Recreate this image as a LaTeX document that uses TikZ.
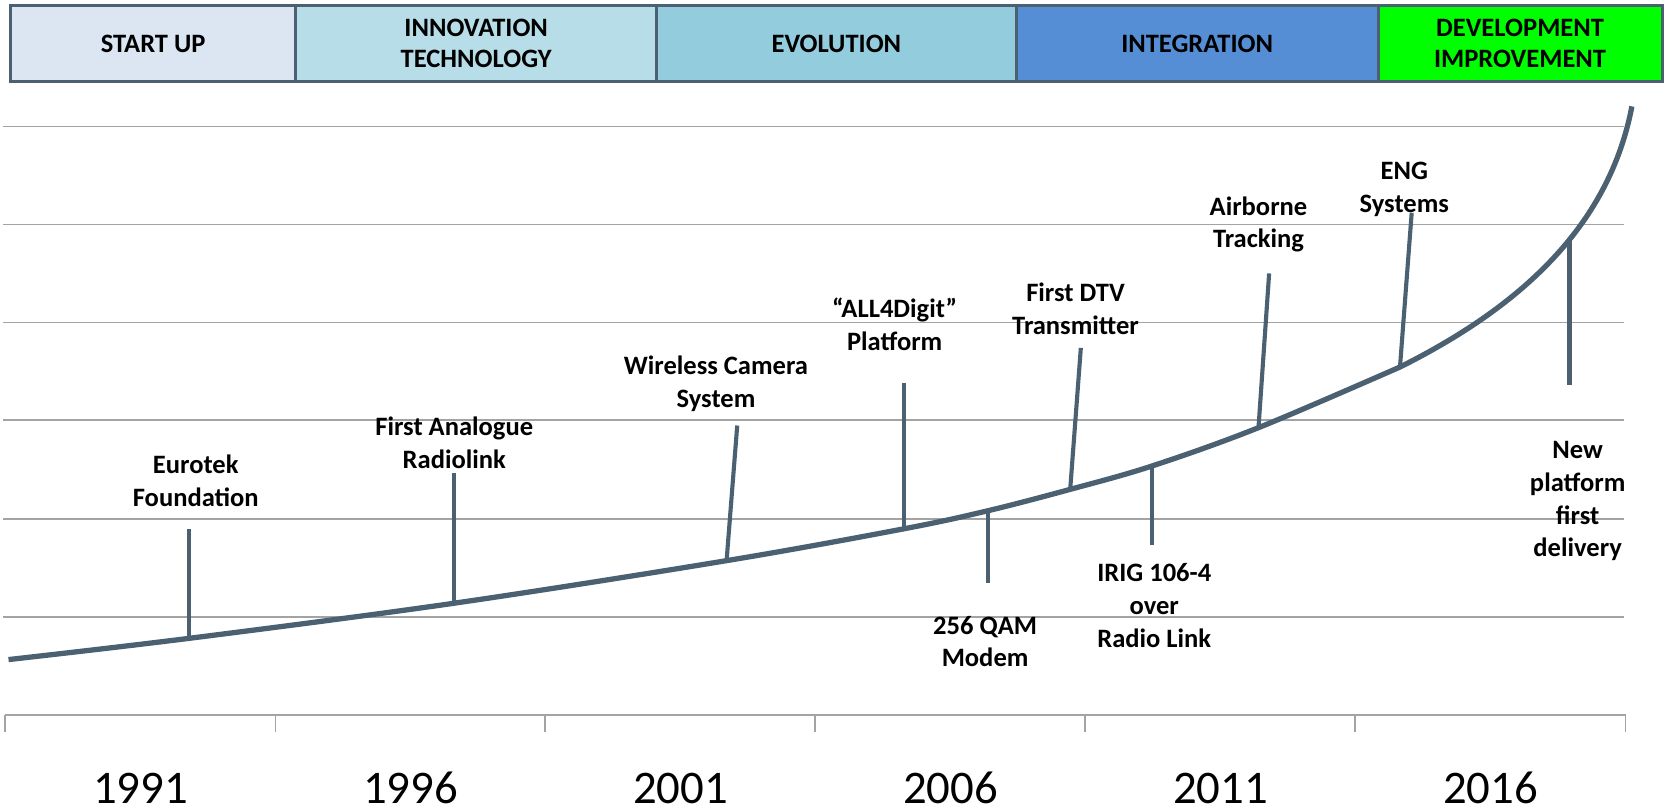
\documentclass[tikz,border=0pt]{standalone}
\usepackage{fontspec}
\setmainfont{Carlito}
\usetikzlibrary{positioning}
\definecolor{slate}{HTML}{4B6171}
\definecolor{gridgray}{HTML}{A3A3A3}
\definecolor{startup}{HTML}{DCE6F2}
\definecolor{innov}{HTML}{B7DEE8}
\definecolor{evol}{HTML}{93CDDD}
\definecolor{integ}{HTML}{558ED5}
\definecolor{devel}{HTML}{00FF00}
\begin{document}
\begin{tikzpicture}[x=0.010638cm,y=-0.010638cm,
    phase/.style={draw=slate,line width=0.85pt,minimum height=0.766cm,outer sep=0pt,inner sep=0pt,align=center,font=\bfseries\fontsize{7.55}{8.8}\selectfont},
    event/.style={align=center,inner sep=0pt,font=\bfseries\fontsize{7.55}{9.36}\selectfont},
    stem/.style={draw=slate,line width=1.17pt},
    gridline/.style={draw=gridgray,line width=0.48pt},
    year/.style={inner sep=0pt,font=\fontsize{13.3}{15}\selectfont}]
        \useasboundingbox (0,0) rectangle (1567,762.4);
        % phases
        \node [phase,fill=startup,minimum width=2.851cm,anchor=north west] (startup) at (10,5) {START UP};
        \node [phase,fill=innov,minimum width=3.606cm,right=0pt of startup] (innov) {INNOVATION\\TECHNOLOGY};
        \node [phase,fill=evol,minimum width=3.596cm,right=0pt of innov] (evol) {EVOLUTION};
        \node [phase,fill=integ,minimum width=3.617cm,right=0pt of evol] (integ) {INTEGRATION};
        \node [phase,fill=devel,minimum width=2.840cm,right=0pt of integ] (devel) {DEVELOPMENT\\IMPROVEMENT};
        % grid and axis
        \foreach \y in {119,211,303,395,488,580}
            \draw [gridline] (3,\y)--(1527,\y);
        \draw [gridline] (5,672)--(1528,672);
        \foreach \x in {5,259,512,766,1020,1274,1528}
            \draw [gridline] (\x,672)--(\x,688);
        \foreach \yr [count=\i from 0] in {1991,1996,2001,2006,2011,2016}
            \node [year] (y\yr) at (132+253.8*\i,741) {\yr};
        % points on the curve
        \coordinate (c0) at (8,620);
        \coordinate (euro) at (178,600);
        \coordinate (radio) at (427,567);
        \coordinate (cam) at (683,527);
        \coordinate (digit) at (850,497);
        \coordinate (qam) at (929,480);
        \coordinate (dtv) at (1006,460);
        \coordinate (irig) at (1083,438);
        \coordinate (air) at (1183,402);
        \coordinate (eng) at (1316,345);
        \coordinate (c1) at (1534,100);
        \draw [slate,line width=1.5pt] plot [smooth,tension=0.55] coordinates {(c0) (euro) (radio) (cam) (digit) (qam) (dtv) (irig) (air) (eng)}
            .. controls (1426,290) and (1512,215) .. (c1) coordinate [pos=0.58] (newp);
        % stems
        \coordinate (euro') at (178,497);
        \coordinate (radio') at (427,445);
        \coordinate (cam') at (693,400);
        \coordinate (digit') at (850,360);
        \coordinate (qam') at (929,548);
        \coordinate (dtv') at (1016,327);
        \coordinate (irig') at (1083,512);
        \coordinate (air') at (1193,257);
        \coordinate (eng') at (1327,200);
        \coordinate (newp') at (newp|-0,362);
        \foreach \e in {euro,radio,cam,digit,qam,dtv,irig,air,eng,newp}
            \draw [stem] (\e)--(\e');
        % labels
        \node [event] (euroL) at (184,452) {Eurotek\\Foundation};
        \node [event] (radioL) at (427,416) {First Analogue\\Radiolink};
        \node [event] (camL) at (673,361) {Wireless Camera\\System};
        \node [event] (digitL) at (841,305) {“ALL4Digit”\\Platform};
        \node [event] (qamL) at (926,603) {256 QAM\\Modem};
        \node [event] (dtvL) at (1011,290) {First DTV\\Transmitter};
        \node [event] (irigL) at (1085,569) {IRIG 106-4\\over\\Radio Link};
        \node [event] (airL) at (1183,211) {Airborne\\Tracking};
        \node [event] (engL) at (1320,178) {ENG\\Systems};
        \node [event] (newpL) at (1483,471) {New\\platform\\first\\delivery};
    \end{tikzpicture}
\end{document}
